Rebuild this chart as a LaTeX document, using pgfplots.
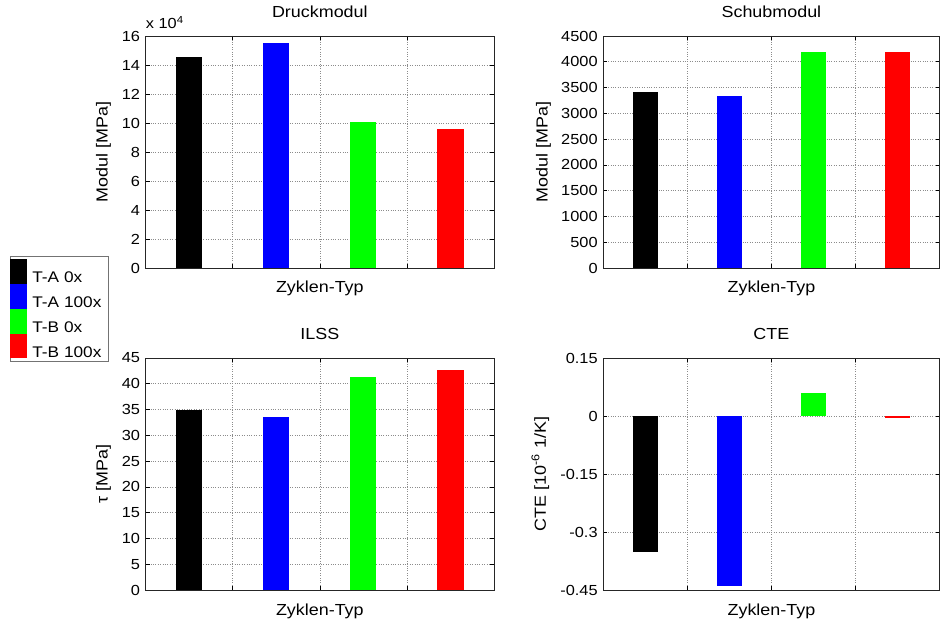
\documentclass[border=0pt]{standalone}
\usepackage{fontspec}
\setmainfont{Liberation Sans}[FakeStretch=1.12]
\usepackage{pgfplots}
\pgfplotsset{compat=1.18}
\definecolor{mgreen}{rgb}{0,1,0}
\definecolor{mblue}{rgb}{0,0,1}
\definecolor{mred}{rgb}{1,0,0}
\pgfplotsset{
  mystyle/.style={
    scale only axis,
    anchor=south west,
    xmin=0.5, xmax=4.5,
    xtick={1.5,2.5,3.5}, xticklabels={},
    grid=major,
    grid style={dotted, black!45, line width=0.6pt},
    tick align=inside,
    major tick length=4pt,
    tick style={black, line width=0.7pt},
    axis line style={black!85, line width=0.9pt},
    /pgf/number format/assume math mode=true,
    /pgf/number format/1000 sep={},
    tick label style={font=\fontsize{14.6}{16}\selectfont},
    yticklabel style={inner sep=0pt, xshift=-5.5pt},
    title style={at={(axis description cs:0.5,1)}, anchor=base, yshift=12.5pt, inner sep=0pt, font=\fontsize{16}{18}\selectfont},
    xlabel style={at={(axis description cs:0.5,0)}, anchor=base, yshift=-25pt, inner sep=0pt, font=\fontsize{16}{18}\selectfont},
    ylabel style={anchor=south, inner sep=0pt, font=\fontsize{16}{18}\selectfont},
    xlabel={Zyklen-Typ},
  },
  mybar/.style={ybar, bar width=0.3, bar shift=0pt, draw=none},
}
\begin{document}
\begin{tikzpicture}[x=1pt,y=1pt]
\useasboundingbox (0,0) rectangle (941,624);

% Druckmodul
\begin{axis}[mystyle, at={(145.7pt,356pt)}, width=348.3pt, height=232pt,
  clip=false,
  ymin=0, ymax=160000, ytick={0,20000,...,160000},
  scaled y ticks=base 10:-4,
  ytick scale label code/.code={},
  title={Druckmodul}, ylabel={Modul [MPa]},
  ylabel style={at={(axis description cs:-0.0991,0.5)}}]
\addplot[mybar, fill=black] coordinates {(1,145300)};
\addplot[mybar, fill=mblue] coordinates {(2,155400)};
\addplot[mybar, fill=mgreen] coordinates {(3,100600)};
\addplot[mybar, fill=mred] coordinates {(4,96200)};
\node[anchor=base west, inner sep=0pt, font=\fontsize{14.6}{16}\selectfont, yshift=7pt] at (rel axis cs:0,1) {x 10\textsuperscript{4}};
\end{axis}

% Schubmodul
\begin{axis}[mystyle, at={(603.3pt,356pt)}, width=336.2pt, height=232pt,
  ymin=0, ymax=4500, ytick={0,500,...,4500},
  title={Schubmodul}, ylabel={Modul [MPa]},
  ylabel style={at={(axis description cs:-0.1548,0.5)}}]
\addplot[mybar, fill=black] coordinates {(1,3419)};
\addplot[mybar, fill=mblue] coordinates {(2,3341)};
\addplot[mybar, fill=mgreen] coordinates {(3,4183)};
\addplot[mybar, fill=mred] coordinates {(4,4196)};
\end{axis}

% ILSS
\begin{axis}[mystyle, at={(145.7pt,34pt)}, width=348.3pt, height=232pt,
  ymin=0, ymax=45, ytick={0,5,...,45},
  title={ILSS}, ylabel={τ [MPa]},
  ylabel style={at={(axis description cs:-0.0991,0.5)}},
  legend image code/.code={%
    \fill[#1, overlay] (-7pt,-6pt) rectangle (10pt,18.8pt);
    \path (0pt,-6pt) rectangle (10pt,18.8pt);},
  legend cell align=left,
  legend style={at={(axis description cs:0,1)}, anchor=north west, xshift=-135.7pt, yshift=102pt,
    draw=black!55, line width=0.8pt, inner xsep=7pt, inner ysep=2.5pt,
    row sep=0pt, column sep=5pt, nodes={inner sep=0pt},
    font=\fontsize{15.4}{17}\selectfont, cells={anchor=west}}]
\addplot[mybar, fill=black] coordinates {(1,34.96)};
\addlegendentry{T-A 0x}
\addplot[mybar, fill=mblue] coordinates {(2,33.6)};
\addlegendentry{T-A 100x}
\addplot[mybar, fill=mgreen] coordinates {(3,41.37)};
\addlegendentry{T-B 0x}
\addplot[mybar, fill=mred] coordinates {(4,42.67)};
\addlegendentry{T-B 100x}
\end{axis}

% CTE
\begin{axis}[mystyle, at={(603.3pt,34pt)}, width=336.2pt, height=232pt,
  ymin=-0.45, ymax=0.15, ytick={-0.45,-0.3,-0.15,0,0.15},
  yticklabel style={/pgf/number format/fixed},
  title={CTE}, ylabel={CTE [10\textsuperscript{-6} 1/K]},
  ylabel style={at={(axis description cs:-0.1607,0.5)}}]
\addplot[mybar, fill=black] coordinates {(1,-0.352)};
\addplot[mybar, fill=mblue] coordinates {(2,-0.44)};
\addplot[mybar, fill=mgreen] coordinates {(3,0.0605)};
\addplot[mybar, fill=mred] coordinates {(4,-0.006)};
\end{axis}
\end{tikzpicture}
\end{document}
